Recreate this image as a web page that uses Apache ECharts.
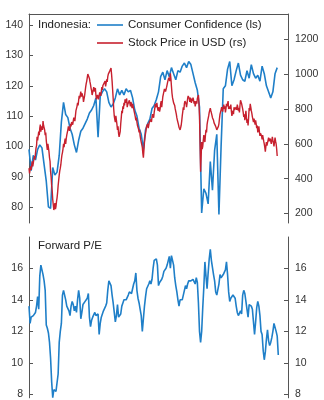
<!DOCTYPE html>
<html><head><meta charset="utf-8">
<script src="https://cdn.jsdelivr.net/npm/echarts@6/dist/echarts.min.js"></script>
<style>html,body{margin:0;padding:0;background:#fff}#c{width:324px;height:400px}</style>
</head><body><div id="c"></div>
<script>
// Months since start of chart (x axis spans 240 months)
const monthSpan = 240;
const ccStepMonths = 2;
const stockStepMonths = 0.5;
const peStepMonths = 1;

// Consumer Confidence (left scale), every 2 months
const ccValues = [99,92,97,95.5,99,100.5,99.5,94,88.5,80,
79.5,93,90.5,91.5,97,108,114.5,110.5,109.5,106,
104,100.5,98,102,105,106,107.5,109,111,112,
113.5,116,103,116.5,118,119,118,114.5,113,114,
116,119,117,118.5,117,119,118,118.5,116,112,
110,106,104,99,105.5,107.5,109,112.5,113.5,115.5,
118,123,124.5,122,125,123,126,124,122,125,
124.5,126.5,127.5,126,128,127,124,121,118.5,113,
78,86,84.5,81,95,85.5,98.7,104,77.5,100,
119,120,125.5,128,120,122,125,127.5,123.5,122,
121.5,125,122.5,127,124,122.5,123.5,121.5,126.5,124,
120,118,116,118,124,126];

// Stock Price in USD (right scale), twice a month
const stockValues = [460,430,420,470,450,440,500,470,480,510,530,510,545,575,590,640,620,610,670,650,
690,710,670,700,700,680,730,705,700,680,650,665,620,590,565,600,590,555,520,500,
440,410,360,330,280,250,220,240,260,225,240,270,290,320,360,390,420,445,460,480,
510,535,550,570,600,580,610,630,600,630,650,640,680,700,700,675,690,715,700,725,
735,710,720,750,745,730,760,790,800,815,835,820,850,875,860,880,900,870,890,900,
870,840,850,875,900,925,945,960,980,1000,1005,990,975,955,940,920,905,880,890,910,
925,900,905,920,880,855,860,880,870,855,875,895,890,875,900,925,910,935,945,925,
940,960,930,950,970,955,985,1000,1010,995,1020,1030,1035,1000,960,910,860,800,760,740,
725,760,750,710,680,700,660,640,635,670,715,750,790,775,815,800,835,820,855,835,
840,860,810,825,835,815,850,830,815,840,825,805,830,815,800,785,770,755,735,750,
725,705,700,685,665,680,645,625,610,595,580,545,520,565,610,640,660,680,700,690,
715,690,700,725,720,735,740,725,755,770,765,750,780,800,830,810,820,835,810,790,
795,810,785,800,830,845,810,840,870,885,900,915,925,900,905,925,940,955,965,980,
985,960,1005,975,930,890,865,850,835,845,820,800,790,770,750,735,725,710,695,690,
680,690,705,730,760,785,810,795,830,845,850,830,810,835,860,875,885,860,840,865,
850,835,860,845,865,850,830,845,815,830,845,830,860,870,880,830,760,600,440,520,
610,570,585,620,650,625,610,650,680,665,710,730,735,760,780,770,805,790,780,765,
750,760,735,720,720,730,700,710,680,670,690,700,715,745,770,780,795,810,800,785,
810,825,800,815,780,800,830,815,830,845,800,790,815,800,825,790,760,775,790,770,
810,795,785,800,810,795,825,810,790,805,780,820,850,840,830,815,800,780,755,770,
735,760,790,750,720,740,705,750,805,790,830,810,790,775,755,740,725,745,730,710,
735,715,690,705,665,680,700,670,645,660,670,645,625,650,640,615,600,580,555,585,
610,590,600,620,635,615,605,630,625,600,620,640,620,605,585,610,635,615,600,570,530];

// Forward P/E, monthly
const peValues = [13.6,12.5,12.9,13.0,13.0,13.1,13.2,13.6,14.2,13.4,
15.5,16.2,16.2,15.6,15.2,14.6,12.4,12.2,11.9,11.3,
10.3,8.8,7.8,8.3,8.4,8.2,8.3,9.3,11.3,12.0,
12.5,14.3,14.6,14.6,14.0,13.6,13.5,13.3,13.0,13.6,
13.9,13.7,13.3,13.6,13.2,14.0,14.6,14.1,12.8,13.2,
13.7,13.8,13.9,13.9,14.1,14.4,12.9,12.3,12.7,12.9,
13.0,13.2,13.0,12.9,13.1,11.8,12.5,12.9,13.0,13.3,
13.4,13.6,13.8,14.6,15.2,15.2,14.9,14.3,13.8,13.2,
12.6,13.0,13.7,12.9,12.8,13.1,13.6,13.8,14.0,14.0,
14.0,14.1,14.3,14.5,14.5,14.4,14.7,15.0,15.2,15.7,
14.6,14.1,13.8,13.4,13.0,12.0,12.8,13.6,14.2,14.7,
14.8,15.0,15.2,15.0,15.3,16.0,16.5,16.6,16.6,16.2,
14.9,15.1,15.2,15.3,15.5,15.8,15.9,16.0,16.2,16.3,
16.75,16.0,16.8,16.9,16.2,15.4,14.9,14.5,14.0,13.6,
14.0,14.1,14.0,13.9,14.6,14.9,14.7,15.0,15.2,15.3,
15.2,15.3,15.3,15.2,15.0,15.4,15.1,13.8,12.0,11.3,
12.0,13.5,14.8,16.4,15.5,14.7,15.7,16.6,17.2,16.5,
16.4,15.6,15.2,14.5,14.3,14.3,15.0,15.6,15.4,15.3,
15.6,15.7,15.9,16.4,15.6,14.5,13.9,14.1,14.2,14.3,
14.2,14.1,13.6,13.2,13.0,12.9,13.3,13.1,14.3,14.6,
14.4,13.9,13.4,12.9,13.7,13.7,13.6,13.4,12.6,11.8,
12.6,13.5,13.9,13.6,13.0,12.0,11.8,10.8,10.2,10.7,
11.5,12.1,11.4,11.1,11.3,11.6,12.0,12.5,12.4,12.0,
11.7,10.5];

const leftTicks = [80, 90, 100, 110, 120, 130, 140];
const rightTicks = [200, 400, 600, 800, 1000, 1200];
const peTicks = [8, 10, 12, 14, 16];

const ccName = 'Consumer Confidence (ls)';
const stockName = 'Stock Price in USD (rs)';

const BLUE = '#1f7fc8';
const RED = '#c7202e';
const AX = '#555';
const FONT = "'Liberation Sans', Arial, sans-serif";

const toPairs = (arr, step) => arr.map((v, i) => [i * step, v]);

function yAx(gridIndex, pos, min, max, ticks, showLabel) {
  return {
    type: 'value', gridIndex, position: pos, min, max,
    axisLine: { show: true, lineStyle: { color: AX, width: 1 } },
    axisTick: { show: true, inside: true, length: 4, customValues: ticks, lineStyle: { color: AX } },
    axisLabel: { show: showLabel, customValues: ticks, color: '#333', fontSize: 10.5, fontFamily: FONT,
                 margin: pos === 'left' ? 6 : 7, formatter: (v) => String(v) },
    splitLine: { show: false }
  };
}

const chart = echarts.init(document.getElementById('c'), null, { renderer: 'canvas' });
chart.setOption({
  animation: false,
  backgroundColor: '#fff',
  grid: [
    { left: 29, right: 36, top: 14, height: 209 },
    { left: 29, right: 36, top: 237, height: 163 }
  ],
  xAxis: [
    { type: 'value', gridIndex: 0, min: 0, max: monthSpan, position: 'top',
      axisLine: { show: true, lineStyle: { color: AX, width: 1 } },
      axisTick: { show: false }, axisLabel: { show: false }, splitLine: { show: false } },
    { type: 'value', gridIndex: 1, min: 0, max: monthSpan, show: false, splitLine: { show: false } }
  ],
  yAxis: [
    yAx(0, 'left', 74.7, 143.7, leftTicks, true),
    yAx(0, 'right', 145.5, 1345, rightTicks, true),
    yAx(1, 'left', 7.79, 17.98, peTicks, true),
    yAx(1, 'right', 7.79, 17.98, peTicks, true)
  ],
  legend: {
    data: [
      { name: ccName, icon: 'rect', itemStyle: { color: BLUE } },
      { name: stockName, icon: 'rect', itemStyle: { color: RED } }
    ],
    orient: 'vertical', left: 97, top: 18, padding: 0,
    itemWidth: 26, itemHeight: 1.6, itemGap: 4,
    textStyle: { color: '#222', fontSize: 11.5, fontFamily: FONT, lineHeight: 14 },
    selectedMode: false
  },
  graphic: [
    { type: 'text', x: 38, y: 25, style: { text: 'Indonesia:', fill: '#222', font: "11.5px 'Liberation Sans', Arial", verticalAlign: 'middle' } },
    { type: 'text', x: 38, y: 246, style: { text: 'Forward P/E', fill: '#222', font: "11.5px 'Liberation Sans', Arial", verticalAlign: 'middle' } }
  ],
  series: [
    { name: ccName, type: 'line', xAxisIndex: 0, yAxisIndex: 0, data: toPairs(ccValues, ccStepMonths),
      symbol: 'none', lineStyle: { color: BLUE, width: 1.6 }, itemStyle: { color: BLUE } },
    { name: stockName, type: 'line', xAxisIndex: 0, yAxisIndex: 1, data: toPairs(stockValues, stockStepMonths),
      symbol: 'none', lineStyle: { color: RED, width: 1.4 }, itemStyle: { color: RED } },
    { name: 'Forward P/E', type: 'line', xAxisIndex: 1, yAxisIndex: 2, data: toPairs(peValues, peStepMonths),
      symbol: 'none', lineStyle: { color: BLUE, width: 1.6 }, itemStyle: { color: BLUE } }
  ]
});
</script>
</body></html>
